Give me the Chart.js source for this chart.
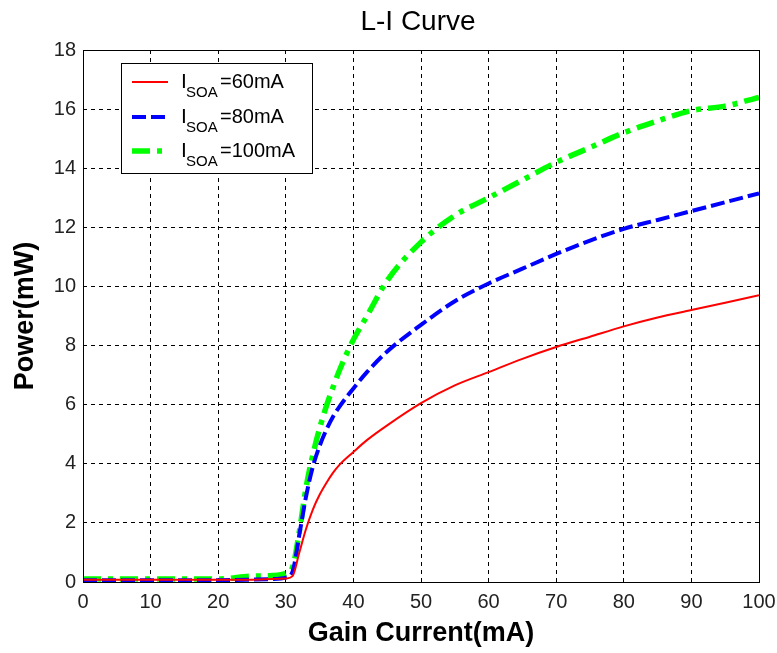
<!DOCTYPE html>
<html>
<head>
<meta charset="utf-8">
<script src="https://cdn.jsdelivr.net/npm/chart.js@4/dist/chart.umd.min.js"></script>
<style>
  html, body { margin: 0; padding: 0; background: #fff; }
  #wrap { width: 777px; height: 653px; }
</style>
</head>
<body>
<div id="wrap"><canvas id="liChart" width="777" height="653"></canvas></div>
<script>
// gain current (mA) and output power (mW)
var current = [0, 5, 10, 15, 20, 25, 28, 30, 31, 32, 33, 34, 35, 36, 37, 38, 40, 42, 45, 50, 55, 60, 65, 70, 75, 80, 85, 90, 95, 100];
var power60 = [0.08, 0.08, 0.08, 0.08, 0.08, 0.08, 0.1, 0.12, 0.2, 1.0, 1.8, 2.45, 2.95, 3.35, 3.7, 3.98, 4.4, 4.8, 5.3, 6.05, 6.65, 7.1, 7.55, 7.95, 8.3, 8.65, 8.95, 9.2, 9.45, 9.7];
var power80 = [0.06, 0.06, 0.06, 0.06, 0.06, 0.08, 0.1, 0.15, 0.35, 1.6, 2.9, 3.9, 4.6, 5.15, 5.6, 5.95, 6.55, 7.1, 7.8, 8.7, 9.5, 10.1, 10.6, 11.1, 11.55, 11.95, 12.25, 12.55, 12.85, 13.15];
var power100 = [0.1, 0.1, 0.1, 0.1, 0.1, 0.2, 0.22, 0.3, 0.5, 1.7, 3.2, 4.3, 5.2, 5.95, 6.6, 7.2, 8.2, 9.0, 10.2, 11.5, 12.4, 13.0, 13.6, 14.2, 14.7, 15.2, 15.6, 15.95, 16.1, 16.4];
var seriesNames = ['=60mA', '=80mA', '=100mA'];

function toPoints(ys) {
  return current.map(function (x, i) { return { x: x, y: ys[i] }; });
}

var data = {
  datasets: [{
    label: 'ISOA' + seriesNames[0],
    data: toPoints(power60),
    borderColor: '#ff0000',
    borderWidth: 2,
    pointRadius: 0,
    showLine: true,
    cubicInterpolationMode: 'monotone'
  }, {
    label: 'ISOA' + seriesNames[1],
    data: toPoints(power80),
    borderColor: '#0000ff',
    borderWidth: 4,
    borderDash: [14, 5],
    pointRadius: 0,
    showLine: true,
    cubicInterpolationMode: 'monotone'
  }, {
    label: 'ISOA' + seriesNames[2],
    data: toPoints(power100),
    borderColor: '#00ff00',
    borderWidth: 5.5,
    borderDash: [18, 7, 5, 7],
    pointRadius: 0,
    showLine: true,
    cubicInterpolationMode: 'monotone'
  }]
};

// box, title and matlab style legend (subscript needs hand drawing)
var decor = {
  id: 'decor',
  afterDraw: function (chart) {
    var ctx = chart.ctx, a = chart.chartArea;
    ctx.save();
    ctx.setLineDash([]);
    ctx.strokeStyle = '#000';
    ctx.lineWidth = 1;
    ctx.strokeRect(Math.round(a.left) + 0.5, Math.round(a.top) + 0.5, Math.round(a.right - a.left), Math.round(a.bottom - a.top));

    ctx.fillStyle = '#000';
    ctx.font = '28px "Liberation Sans", Arial, sans-serif';
    ctx.textAlign = 'center';
    ctx.textBaseline = 'alphabetic';
    ctx.fillText('L-I Curve', 418, 30);

    // legend box
    ctx.fillStyle = '#fff';
    ctx.fillRect(121, 63, 191, 110);
    ctx.strokeRect(121.5, 63.5, 191, 110);
    var rows = [82, 117, 151];
    chart.data.datasets.forEach(function (ds, i) {
      var y = rows[i];
      ctx.save();
      ctx.strokeStyle = ds.borderColor;
      ctx.lineWidth = ds.borderWidth;
      ctx.setLineDash(ds.borderDash || []);
      ctx.beginPath();
      ctx.moveTo(132, y);
      ctx.lineTo(168, y);
      ctx.stroke();
      ctx.restore();
      ctx.fillStyle = '#000';
      ctx.textAlign = 'left';
      ctx.font = '21px "Liberation Sans", Arial, sans-serif';
      ctx.fillText('I', 181, y + 6);
      ctx.font = '15px "Liberation Sans", Arial, sans-serif';
      ctx.fillText('SOA', 186, y + 15);
      ctx.font = '20px "Liberation Sans", Arial, sans-serif';
      ctx.fillText(seriesNames[i], 220, y + 6);
    });
    ctx.restore();
  }
};

var tickFont = { family: '"Liberation Sans", Arial, sans-serif', size: 20 };
var titleFont = { family: '"Liberation Sans", Arial, sans-serif', size: 27, weight: 'bold' };

var options = {
  responsive: false,
  animation: false,
  layout: { padding: { top: 50, right: 18, left: 0, bottom: 0 } },
  scales: {
    x: {
      type: 'linear',
      min: 0,
      max: 100,
      ticks: { stepSize: 10, color: '#222', font: tickFont, padding: 8, maxRotation: 0 },
      grid: { color: '#000', lineWidth: 1, drawTicks: false },
      border: { display: false, dash: [4, 4] },
      title: { display: true, text: 'Gain Current(mA)', color: '#000', font: titleFont, padding: { top: 0, bottom: 3 } },
      afterFit: function (scale) {
        scale.height = 71;
        scale.paddingLeft = 0;
        scale.paddingRight = 0;
      }
    },
    y: {
      min: 0,
      max: 18,
      ticks: { stepSize: 2, color: '#222', font: tickFont, padding: 7 },
      grid: { color: '#000', lineWidth: 1, drawTicks: false },
      border: { display: false, dash: [4, 4] },
      title: { display: true, text: 'Power(mW)', color: '#000', font: titleFont, padding: { top: 9, bottom: 0 } },
      afterFit: function (scale) { scale.width = 83; }
    }
  },
  plugins: {
    legend: { display: false },
    tooltip: { enabled: false }
  }
};

var ctx = document.getElementById('liChart').getContext('2d');
var liChart = new Chart(ctx, {
  type: 'scatter',
  data: data,
  options: options,
  plugins: [decor]
});
</script>
</body>
</html>
